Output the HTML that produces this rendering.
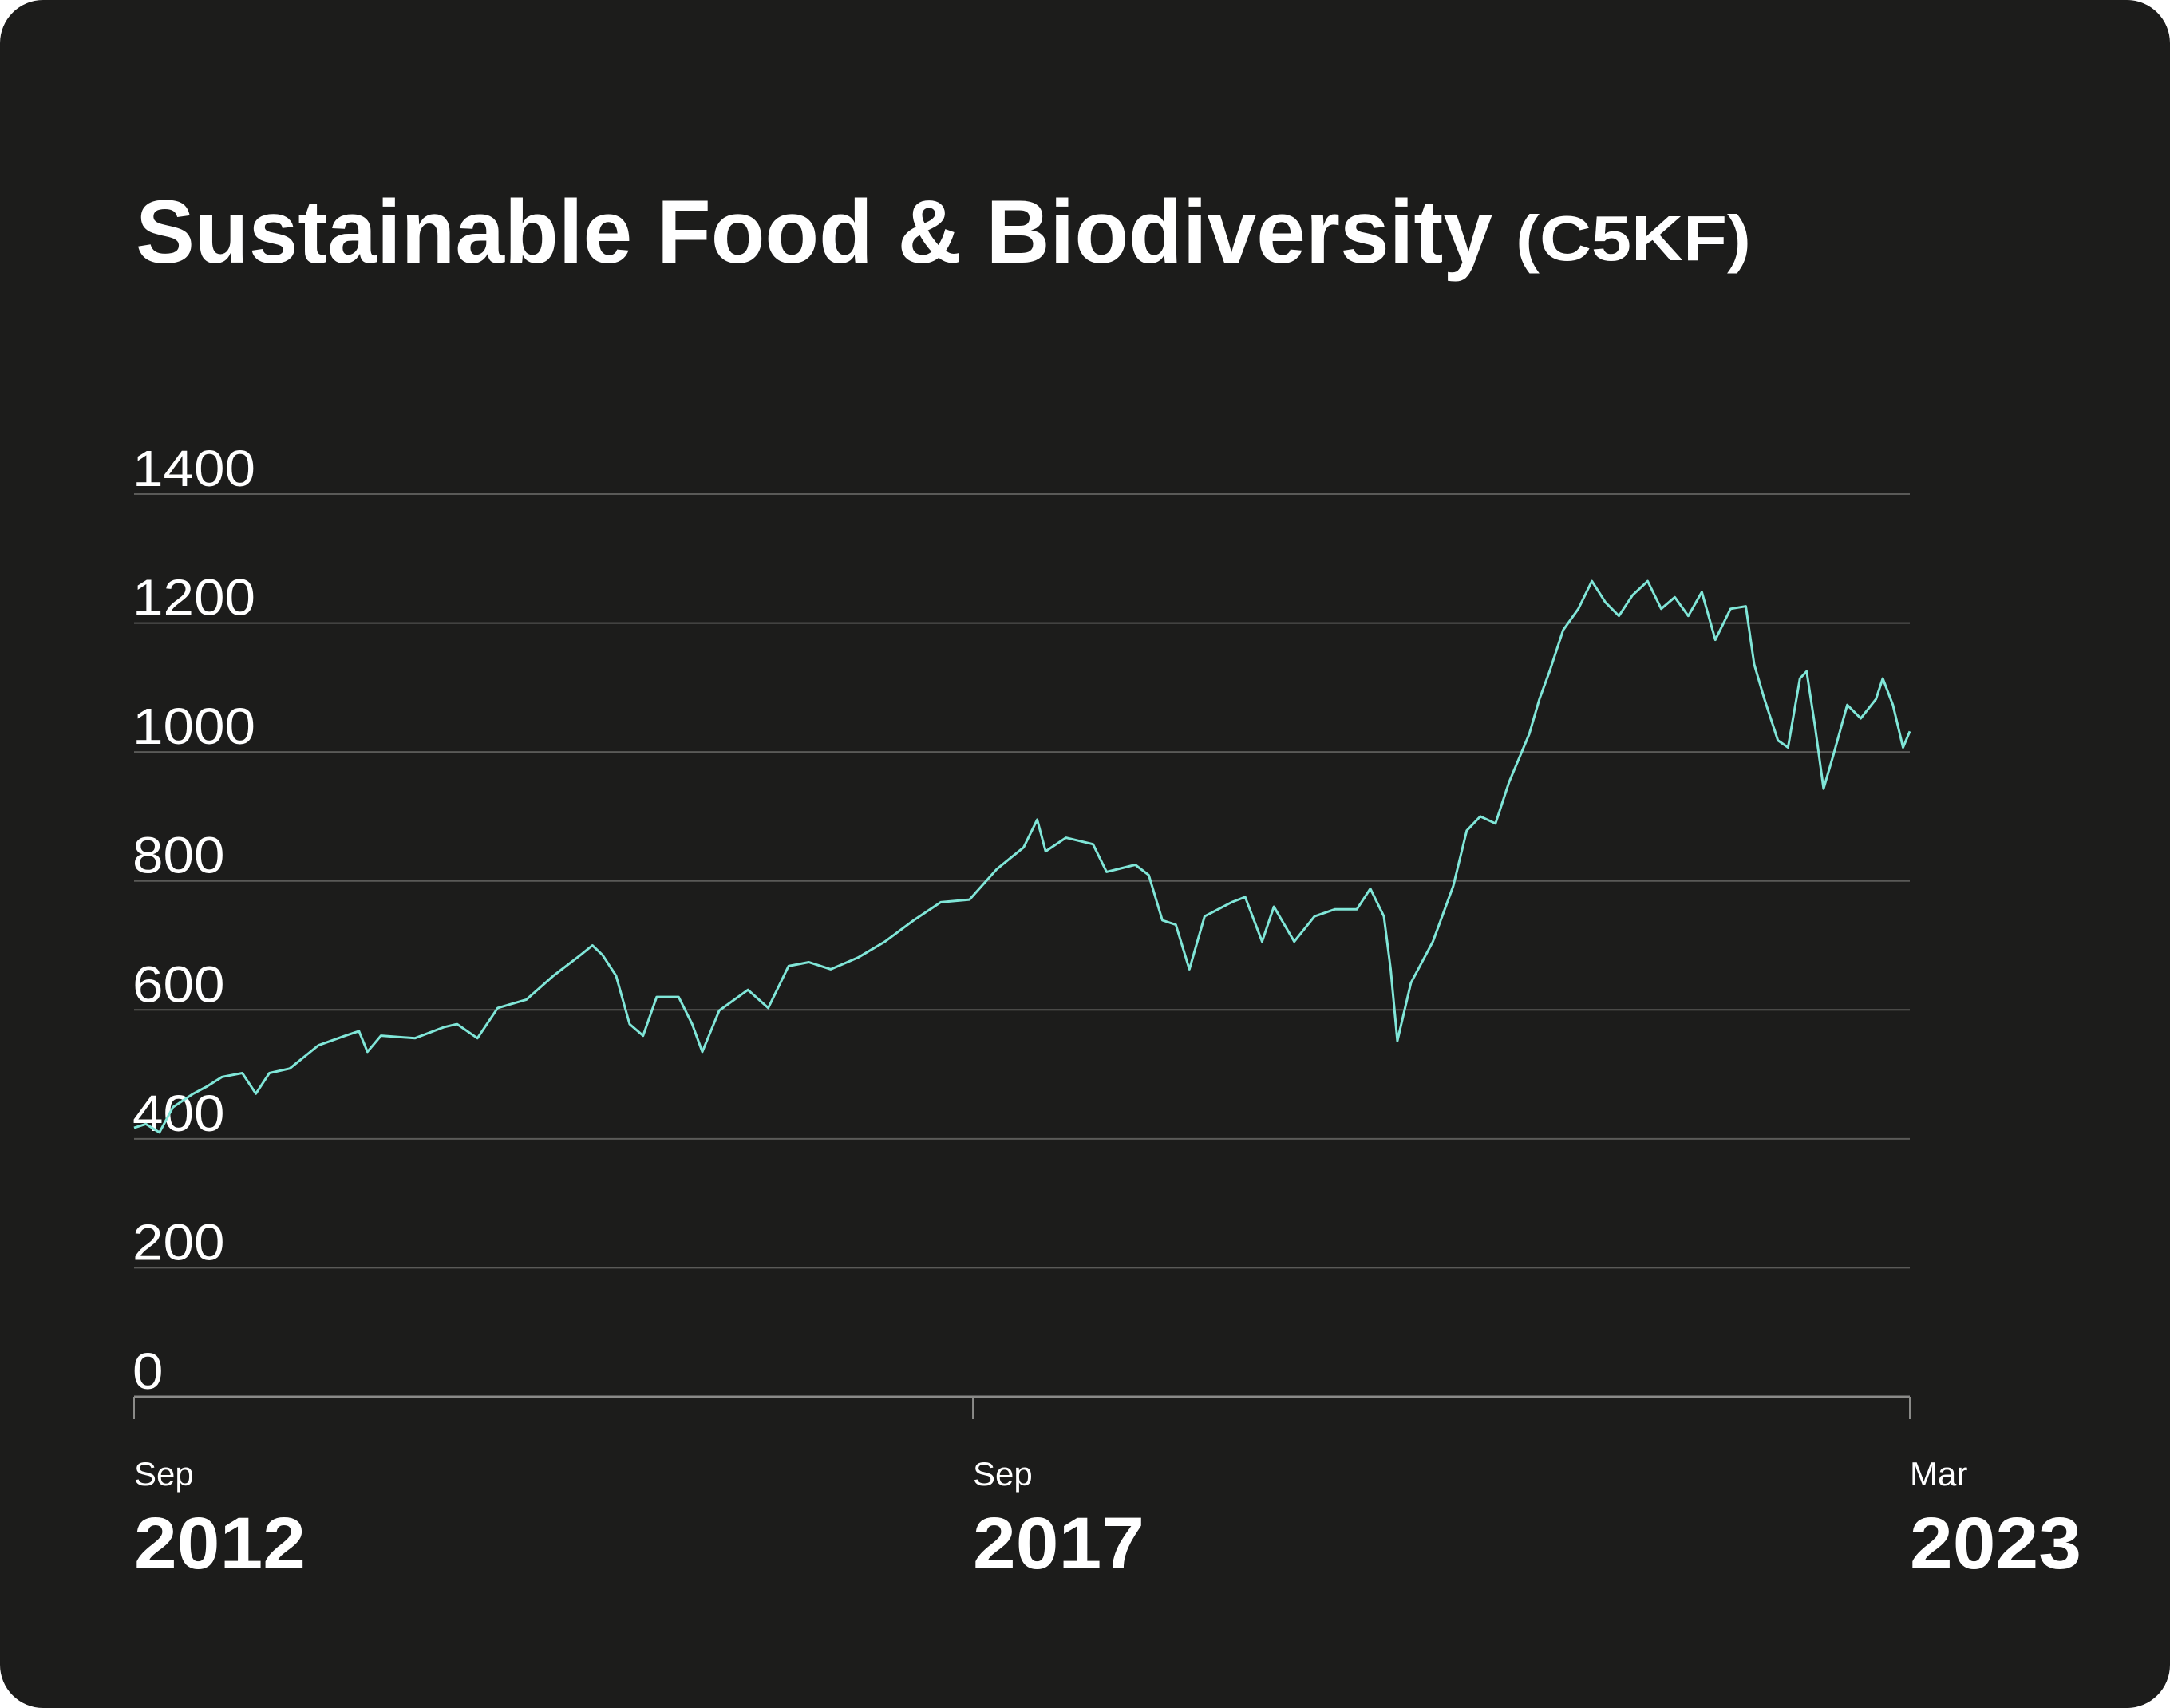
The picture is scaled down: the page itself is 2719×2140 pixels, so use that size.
<!DOCTYPE html>
<html><head><meta charset="utf-8"><style>
html,body{margin:0;padding:0;background:#fff;width:2719px;height:2140px;overflow:hidden}
svg{display:block;font-family:"Liberation Sans",sans-serif}
</style></head><body>
<svg id="chart" width="2719" height="2140" viewBox="0 0 2719 2140" xmlns="http://www.w3.org/2000/svg">
<rect x="0" y="0" width="2719" height="2140" rx="54" fill="#1c1c1b"/>
<text x="170" y="329" fill="#fff" font-weight="bold" font-size="112" textLength="1700" lengthAdjust="spacingAndGlyphs">Sustainable Food &amp; Biodiversity</text>
<text x="1899" y="326" fill="#fff" font-weight="bold" font-size="80" textLength="295" lengthAdjust="spacingAndGlyphs">(C5KF)</text>
<g id="grid"></g>
<g id="xaxis"></g>
<path id="line" fill="none" stroke="#80e6d8" stroke-width="3" stroke-linejoin="round"/>
</svg>
<script>
const yTicks=[0,200,400,600,800,1000,1200,1400];
const xTickDates=[2012.67,2017.63,2023.17];
const xTickMonths=["Sep","Sep","Mar"];
const xTickYears=["2012","2017","2023"];
const dates=[2012.67,2012.74,2012.82,2012.90,2013.02,2013.10,2013.19,2013.31,2013.39,2013.47,2013.59,2013.76,2013.92,2014.00,2014.05,2014.13,2014.33,2014.50,2014.58,2014.70,2014.82,2014.99,2015.15,2015.31,2015.38,2015.44,2015.52,2015.60,2015.68,2015.76,2015.89,2015.97,2016.03,2016.13,2016.30,2016.42,2016.54,2016.66,2016.79,2016.95,2017.11,2017.28,2017.44,2017.61,2017.77,2017.93,2018.01,2018.06,2018.18,2018.34,2018.42,2018.59,2018.67,2018.75,2018.83,2018.91,2019.00,2019.16,2019.24,2019.34,2019.41,2019.53,2019.65,2019.77,2019.90,2019.98,2020.06,2020.10,2020.14,2020.22,2020.35,2020.47,2020.55,2020.63,2020.72,2020.80,2020.92,2020.98,2021.04,2021.12,2021.21,2021.29,2021.37,2021.45,2021.53,2021.62,2021.70,2021.78,2021.86,2021.94,2022.02,2022.11,2022.20,2022.25,2022.31,2022.39,2022.45,2022.52,2022.56,2022.61,2022.66,2022.72,2022.80,2022.88,2022.97,2023.01,2023.07,2023.13,2023.17];
const values=[417,423,410,449,470,481,496,502,470,502,509,545,560,567,535,560,556,573,578,556,603,616,653,685,700,685,653,578,560,620,620,578,535,599,631,603,668,674,663,681,706,739,767,771,818,852,895,846,867,857,814,825,809,739,732,663,745,767,775,706,760,706,745,756,756,788,745,663,552,642,706,792,878,900,889,953,1028,1082,1125,1189,1222,1265,1232,1211,1243,1265,1222,1240,1211,1248,1174,1222,1226,1136,1082,1018,1007,1114,1125,1039,943,997,1073,1052,1082,1114,1073,1007,1032];

const X0=168,X1=2393,Y0=1750,Y1=619;
const xS=d=>X0+(d-2012.67)/(2023.17-2012.67)*(X1-X0);
const yS=v=>Y0-v/1400*(Y0-Y1);
const NS="http://www.w3.org/2000/svg";
const grid=document.getElementById('grid');
yTicks.forEach(t=>{
  if(t>0){
    const l=document.createElementNS(NS,'line');
    
    
    l.setAttribute('x1',X0);l.setAttribute('x2',X1);
    l.setAttribute('y1',yS(t));l.setAttribute('y2',yS(t));
    l.setAttribute('stroke','#5a5a58');l.setAttribute('stroke-width','2');
    grid.appendChild(l);
  }
  const tx=document.createElementNS(NS,'text');
  
  
  tx.setAttribute('x',166);tx.setAttribute('y',yS(t)-10);
  tx.setAttribute('fill','#fff');tx.setAttribute('font-size','64');
  const s=String(t);
  tx.setAttribute('textLength',s.length*38.5);
  tx.setAttribute('lengthAdjust','spacingAndGlyphs');
  tx.textContent=s;
  grid.appendChild(tx);
});
const xa=document.getElementById('xaxis');
const ax=document.createElementNS(NS,'line');


ax.setAttribute('x1',X0);ax.setAttribute('x2',X1);ax.setAttribute('y1',Y0);ax.setAttribute('y2',Y0);
ax.setAttribute('stroke','#8a8a88');ax.setAttribute('stroke-width','3');
xa.appendChild(ax);
xTickDates.forEach((d,i)=>{
  const x=xS(d);
  const tk=document.createElementNS(NS,'line');
  
  
  tk.setAttribute('x1',x);tk.setAttribute('x2',x);tk.setAttribute('y1',Y0);tk.setAttribute('y2',1778);
  tk.setAttribute('stroke','#8a8a88');tk.setAttribute('stroke-width','2');
  xa.appendChild(tk);
  const m=document.createElementNS(NS,'text');
  
  
  m.setAttribute('x',x);m.setAttribute('y',1861);m.setAttribute('fill','#fff');m.setAttribute('font-size','42');
  m.textContent=xTickMonths[i];
  xa.appendChild(m);
  const y=document.createElementNS(NS,'text');
  
  
  y.setAttribute('x',x);y.setAttribute('y',1965);y.setAttribute('fill','#fff');y.setAttribute('font-size','92');y.setAttribute('font-weight','bold');
  y.setAttribute('textLength','215');y.setAttribute('lengthAdjust','spacingAndGlyphs');
  y.textContent=xTickYears[i];
  xa.appendChild(y);
});
document.getElementById('line').setAttribute('d',dates.map((d,i)=>(i?'L':'M')+xS(d).toFixed(1)+' '+yS(values[i]).toFixed(1)).join(' '));
</script>
</body></html>
